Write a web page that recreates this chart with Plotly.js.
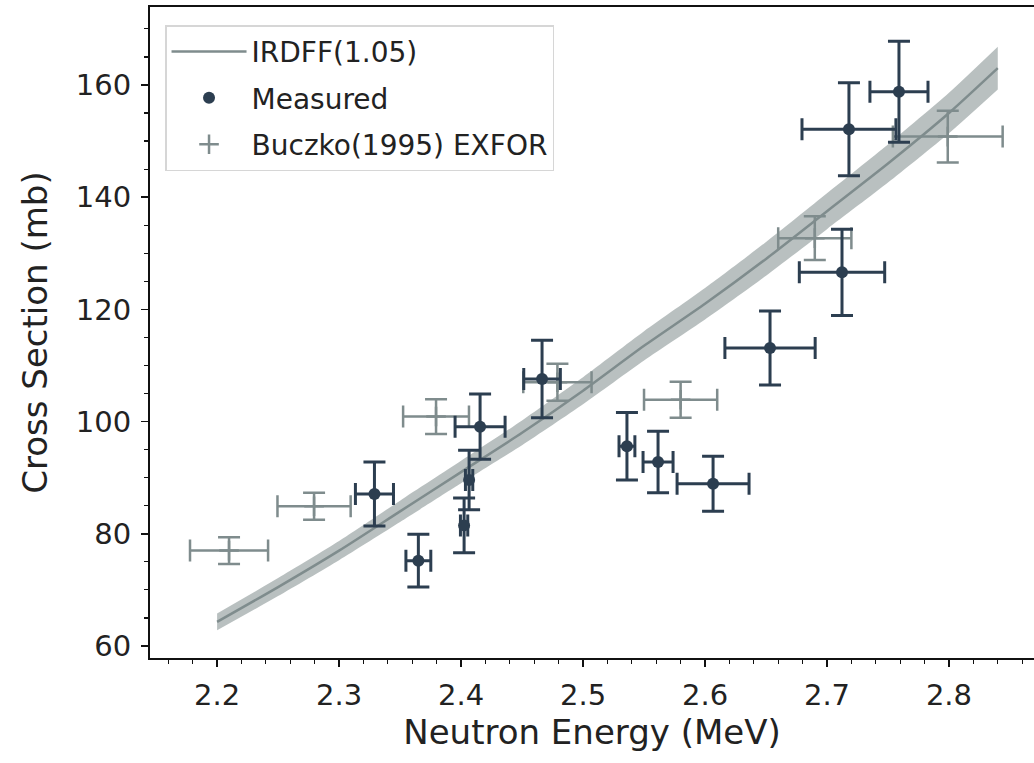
<!DOCTYPE html>
<html>
<head>
<meta charset="utf-8">
<script src="https://cdn.plot.ly/plotly-3.0.1.min.js"></script>
<style>html,body{margin:0;padding:0;background:#fff;}#plot{width:1034px;height:763px;}</style>
</head>
<body>
<div id="plot"></div>
<script>
// IRDFF(1.05) evaluated curve and its uncertainty band
const curveE  = [2.20, 2.25, 2.30, 2.35, 2.40, 2.45, 2.50, 2.55, 2.60, 2.65, 2.70, 2.75, 2.80, 2.84];
const curveXS = [64.3, 70.5, 77.0, 84.0, 91.0, 98.0, 105.5, 113.5, 121.0, 129.0, 137.5, 146.0, 155.0, 163.0];
const bandLo  = [62.8, 68.9, 75.3, 82.1, 89.0, 95.8, 103.1, 110.9, 118.2, 126.0, 134.3, 142.6, 151.4, 159.2];
const bandHi  = [65.8, 72.1, 78.7, 85.9, 93.0, 100.2, 107.9, 116.1, 123.8, 132.0, 140.7, 149.4, 158.6, 166.8];

// Measured
const measE    = [2.329, 2.365, 2.4025, 2.4066, 2.4156, 2.4664, 2.536, 2.5615, 2.6066, 2.6533, 2.7123, 2.718, 2.759];
const measEerr = [0.0156, 0.0102, 0.003, 0.003, 0.0205, 0.015, 0.0065, 0.0123, 0.0295, 0.037, 0.035, 0.0385, 0.0238];
const measXS   = [87.1, 75.2, 81.5, 89.6, 99.1, 107.6, 95.6, 92.8, 88.9, 113.1, 126.6, 152.1, 158.8];
const measXSerr= [5.7, 4.7, 4.9, 5.3, 5.8, 6.9, 6.0, 5.5, 4.9, 6.6, 7.7, 8.3, 9.0];

// Buczko(1995) EXFOR
const bucE     = [2.2098, 2.2795, 2.3795, 2.479, 2.580, 2.690, 2.799];
const bucEerr  = [0.032, 0.030, 0.027, 0.028, 0.030, 0.030, 0.045];
const bucXS    = [77.0, 84.9, 100.9, 107.0, 103.9, 132.7, 150.8];
const bucXSerr = [2.4, 2.4, 3.1, 3.3, 3.2, 3.9, 4.6];

const dark = '#2c3e50';
const gray = '#7f8c8d';
const FONT = 'DejaVu Sans, sans-serif';

const bandLower = {
  x: curveE, y: bandLo, type: 'scatter', mode: 'lines',
  line: {width: 0, color: 'rgba(0,0,0,0)', shape: 'spline', smoothing: 0.6},
  showlegend: false, hoverinfo: 'skip'
};
const bandUpper = {
  x: curveE, y: bandHi, type: 'scatter', mode: 'lines', fill: 'tonexty',
  fillcolor: 'rgba(127,140,141,0.55)',
  line: {width: 0, color: 'rgba(0,0,0,0)', shape: 'spline', smoothing: 0.6},
  showlegend: false, hoverinfo: 'skip'
};
const curve = {
  x: curveE, y: curveXS, type: 'scatter', mode: 'lines',
  line: {color: gray, width: 2.5, shape: 'spline', smoothing: 0.6}, name: 'IRDFF(1.05)', legendrank: 1, legendgroup: 'a'
};
const buc = {
  x: bucE, y: bucXS, type: 'scatter', mode: 'markers', name: 'Buczko(1995) EXFOR', legendrank: 3, legendgroup: 'c',
  marker: {symbol: 'cross-thin', size: 14, color: gray, line: {color: gray, width: 2.5}},
  error_x: {type: 'data', array: bucEerr, color: gray, thickness: 2.5, width: 11},
  error_y: {type: 'data', array: bucXSerr, color: gray, thickness: 2.5, width: 11}
};
const meas = {
  x: measE, y: measXS, type: 'scatter', mode: 'markers', name: 'Measured', legendrank: 2, legendgroup: 'b',
  marker: {symbol: 'circle', size: 12, color: dark},
  error_x: {type: 'data', array: measEerr, color: dark, thickness: 3, width: 11},
  error_y: {type: 'data', array: measXSerr, color: dark, thickness: 3, width: 11}
};

const layout = {
  width: 1034, height: 763,
  margin: {l: 150, r: 0, t: 7, b: 105},
  paper_bgcolor: '#fff', plot_bgcolor: '#fff',
  font: {family: FONT, size: 29, color: '#222'},
  showlegend: true,
  legend: {
    x: 0.017, y: 0.972, xanchor: 'left', yanchor: 'top',
    bgcolor: 'rgba(255,255,255,0.85)', bordercolor: '#d6d6d6', borderwidth: 1.5,
    font: {family: FONT, size: 28, color: '#222'},
    traceorder: 'grouped', tracegroupgap: 7, itemwidth: 75
  },
  xaxis: {
    range: [2.145, 2.8697], showgrid: false, zeroline: false,
    showline: true, linecolor: '#111', linewidth: 2, mirror: true,
    ticks: 'outside', ticklen: 7, tickwidth: 1.5, tickcolor: '#111',
    tickvals: [2.2, 2.3, 2.4, 2.5, 2.6, 2.7, 2.8], ticktext: ['2.2','2.3','2.4','2.5','2.6','2.7','2.8'],
    minor: {dtick: 0.02, tick0: 2.2, ticks: 'outside', ticklen: 4, tickcolor: '#111', tickwidth: 1.2, showgrid: false},
    tickfont: {size: 29}, ticklabelstandoff: 3,
    title: {text: 'Neutron Energy (MeV)', font: {size: 34}, standoff: 8}
  },
  yaxis: {
    range: [57.86, 173.9], showgrid: false, zeroline: false,
    showline: true, linecolor: '#111', linewidth: 2, mirror: false,
    ticks: 'outside', ticklen: 7, tickwidth: 1.5, tickcolor: '#111',
    tickvals: [60, 80, 100, 120, 140, 160],
    minor: {dtick: 5, tick0: 60, ticks: 'outside', ticklen: 4, tickcolor: '#111', tickwidth: 1.2, showgrid: false},
    tickfont: {size: 29}, ticklabelstandoff: 4,
    title: {text: 'Cross Section (mb)', font: {size: 34}, standoff: 18}
  }
};

Plotly.newPlot('plot', [bandLower, bandUpper, curve, buc, meas], layout, {displayModeBar: false, staticPlot: true});
</script>
</body>
</html>
